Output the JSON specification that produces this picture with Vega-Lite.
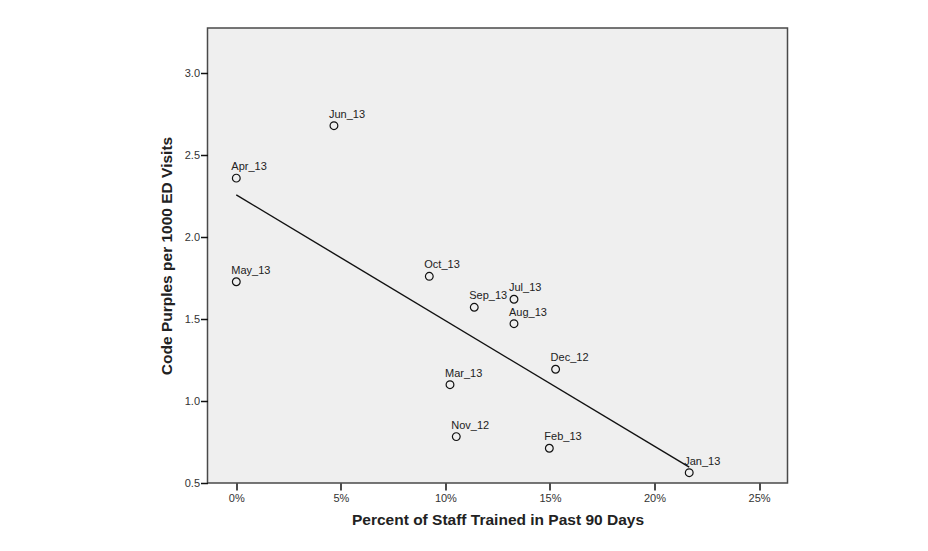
{
  "$schema": "https://vega.github.io/schema/vega-lite/v6.json",
  "width": 580,
  "height": 455,
  "autosize": {"type": "none"},
  "padding": {"left": 207.5, "top": 28, "right": 140.5, "bottom": 68},
  "background": "white",
  "config": {
    "font": "Liberation Sans",
    "view": {"fill": "#efefef", "stroke": "#4a4a4a", "strokeWidth": 1.5},
    "axis": {
      "domain": false,
      "grid": false,
      "tickColor": "#111",
      "tickWidth": 1.5,
      "tickSize": 7,
      "labelFont": "Liberation Sans",
      "labelFontSize": 11,
      "labelColor": "#333",
      "titleFont": "Liberation Sans",
      "titleFontSize": 15.5,
      "titleFontWeight": "bold",
      "titleColor": "#222"
    }
  },
  "data": {
    "values": [
      {"month": "Nov_12", "trained": 0.1052, "rate": 0.783},
      {"month": "Dec_12", "trained": 0.1527, "rate": 1.194},
      {"month": "Jan_13", "trained": 0.2166, "rate": 0.563},
      {"month": "Feb_13", "trained": 0.1497, "rate": 0.712},
      {"month": "Mar_13", "trained": 0.1022, "rate": 1.10},
      {"month": "Apr_13", "trained": 0.0, "rate": 2.36},
      {"month": "May_13", "trained": 0.0, "rate": 1.728},
      {"month": "Jun_13", "trained": 0.0467, "rate": 2.68},
      {"month": "Jul_13", "trained": 0.1328, "rate": 1.621},
      {"month": "Aug_13", "trained": 0.1328, "rate": 1.472},
      {"month": "Sep_13", "trained": 0.1138, "rate": 1.572},
      {"month": "Oct_13", "trained": 0.0923, "rate": 1.761}
    ]
  },
  "encoding": {
    "x": {
      "field": "trained",
      "type": "quantitative",
      "scale": {"domain": [-0.01377, 0.2636], "nice": false, "zero": false},
      "axis": {
        "values": [0, 0.05, 0.1, 0.15, 0.2, 0.25],
        "format": ".0%",
        "labelPadding": 2,
        "title": "Percent of Staff Trained in Past 90 Days",
        "titlePadding": 9
      }
    },
    "y": {
      "field": "rate",
      "type": "quantitative",
      "scale": {"domain": [0.5, 3.276], "nice": false, "zero": false},
      "axis": {
        "values": [0.5, 1.0, 1.5, 2.0, 2.5, 3.0],
        "format": ".1f",
        "labelPadding": 1,
        "title": "Code Purples per 1000 ED Visits",
        "titlePadding": 10
      }
    }
  },
  "layer": [
    {
      "transform": [{"regression": "rate", "on": "trained"}],
      "mark": {"type": "line", "color": "#111", "strokeWidth": 1.4}
    },
    {
      "mark": {"type": "point", "shape": "circle", "filled": false, "stroke": "#111", "strokeWidth": 1.2, "size": 60, "opacity": 1}
    },
    {
      "mark": {"type": "text", "align": "left", "baseline": "alphabetic", "dx": -5, "dy": -8, "fontSize": 11, "color": "#222", "font": "Liberation Sans"},
      "encoding": {"text": {"field": "month", "type": "nominal"}}
    }
  ]
}
